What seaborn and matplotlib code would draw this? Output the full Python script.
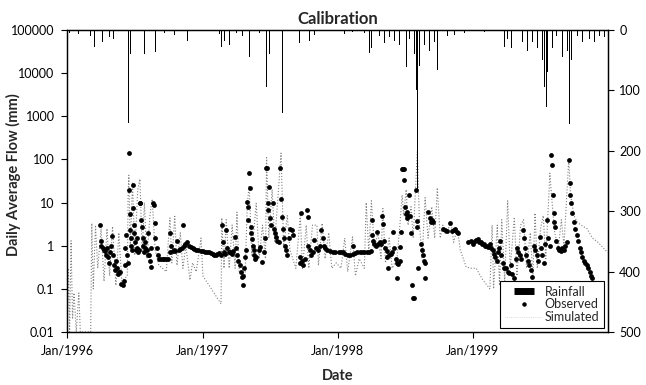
import pandas as pd
import matplotlib
matplotlib.use("Agg")
import matplotlib.pyplot as plt
import matplotlib.dates as mdates
from matplotlib.ticker import FuncFormatter, NullLocator
from matplotlib.lines import Line2D
import seaborn as sns

# observed daily average flow (mm)
obs_1996_dates = [
    "1996-03-30", "1996-04-01", "1996-04-03", "1996-04-06", "1996-04-09", "1996-04-12", "1996-04-15", "1996-04-18", "1996-04-20", "1996-04-23",
    "1996-04-26", "1996-04-29", "1996-05-02", "1996-05-04", "1996-05-06", "1996-05-09", "1996-05-12", "1996-05-15", "1996-05-18", "1996-05-21",
    "1996-05-24", "1996-05-27", "1996-05-30", "1996-06-02", "1996-06-05", "1996-06-07", "1996-06-09", "1996-06-11", "1996-06-13", "1996-06-16",
    "1996-06-17", "1996-06-18", "1996-06-19", "1996-06-21", "1996-06-23", "1996-06-25", "1996-06-27", "1996-06-28", "1996-06-29", "1996-07-01",
    "1996-07-03", "1996-07-05", "1996-07-07", "1996-07-09", "1996-07-11", "1996-07-13", "1996-07-15", "1996-07-17", "1996-07-19", "1996-07-21",
    "1996-07-23", "1996-07-25", "1996-07-27", "1996-07-29", "1996-07-31", "1996-08-03", "1996-08-06", "1996-08-08", "1996-08-10", "1996-08-12",
    "1996-08-14", "1996-08-16", "1996-08-20", "1996-08-22", "1996-08-25", "1996-08-27", "1996-08-30", "1996-09-02", "1996-09-05", "1996-09-10",
    "1996-09-15", "1996-09-20", "1996-09-25", "1996-10-01", "1996-10-04", "1996-10-06", "1996-10-08", "1996-10-12", "1996-10-16", "1996-10-20",
    "1996-10-25", "1996-10-29", "1996-11-02", "1996-11-06", "1996-11-09", "1996-11-12", "1996-11-16", "1996-11-20", "1996-11-25", "1996-11-30",
    "1996-12-05", "1996-12-10", "1996-12-15", "1996-12-20", "1996-12-27",
]
obs_1996_flow = [
    3.0, 1.3, 1.0, 0.9, 0.8, 0.75, 0.6, 0.9, 0.55, 0.4,
    0.7, 1.0, 1.7, 0.6, 0.35, 0.27, 0.45, 0.3, 0.22, 0.25,
    0.25, 0.13, 0.12, 0.15, 0.35, 0.9, 1.8, 0.6, 0.4, 140,
    19.5, 5.4, 2.3, 1.5, 1.0, 0.8, 25, 7.5, 3.0, 2.0,
    1.2, 0.8, 0.9, 1.5, 0.7, 0.8, 9.8, 9.8, 4.0, 2.7,
    1.5, 1.0, 0.7, 1.2, 0.9, 0.8, 2.0, 0.6, 0.6, 0.45,
    0.32, 0.9, 9.8, 8.8, 3.3, 1.5, 0.9, 0.6, 0.5, 0.5,
    0.5, 0.5, 0.5, 0.5, 0.7, 2.0, 1.0, 0.75, 0.8, 0.75,
    1.3, 0.8, 0.85, 0.9, 3.0, 1.0, 1.1, 1.2, 1.0, 0.95,
    0.9, 0.85, 0.8, 0.8, 0.75,
]

obs_1997_dates = [
    "1997-01-03", "1997-01-08", "1997-01-13", "1997-01-18", "1997-01-23", "1997-01-28", "1997-02-02", "1997-02-06", "1997-02-10", "1997-02-15",
    "1997-02-19", "1997-02-22", "1997-02-24", "1997-02-27", "1997-03-03", "1997-03-06", "1997-03-09", "1997-03-13", "1997-03-17", "1997-03-21",
    "1997-03-25", "1997-03-29", "1997-04-01", "1997-04-04", "1997-04-08", "1997-04-11", "1997-04-14", "1997-04-17", "1997-04-19", "1997-04-21",
    "1997-04-24", "1997-04-27", "1997-04-29", "1997-05-01", "1997-05-03", "1997-05-05", "1997-05-07", "1997-05-09", "1997-05-11", "1997-05-13",
    "1997-05-15", "1997-05-17", "1997-05-19", "1997-05-21", "1997-05-23", "1997-05-26", "1997-06-02", "1997-06-06", "1997-06-11", "1997-06-15",
    "1997-06-19", "1997-06-22", "1997-06-24", "1997-06-26", "1997-06-28", "1997-06-30", "1997-07-03", "1997-07-06", "1997-07-09", "1997-07-12",
    "1997-07-15", "1997-07-18", "1997-07-22", "1997-07-26", "1997-07-30", "1997-08-01", "1997-08-03", "1997-08-05", "1997-08-08", "1997-08-12",
    "1997-08-15", "1997-08-18", "1997-08-22", "1997-08-26", "1997-08-30", "1997-09-03", "1997-09-20", "1997-09-22", "1997-09-24", "1997-09-26",
    "1997-09-28", "1997-10-05", "1997-10-10", "1997-10-12", "1997-10-14", "1997-10-17", "1997-10-22", "1997-10-26", "1997-10-30", "1997-11-03",
    "1997-11-08", "1997-11-14", "1997-11-18", "1997-11-21", "1997-11-24", "1997-11-28", "1997-12-03", "1997-12-10", "1997-12-18", "1997-12-26",
]
obs_1997_flow = [
    0.75, 0.72, 0.7, 0.72, 0.68, 0.65, 0.6, 0.62, 0.65, 0.68,
    0.6, 3.0, 1.2, 0.7, 0.65, 2.3, 0.9, 0.7, 0.7, 0.65,
    0.75, 1.6, 0.9, 0.6, 0.45, 0.35, 0.25, 0.19, 0.12, 0.2,
    0.3, 0.55, 0.8, 10.3, 8.0, 4.0, 48, 22, 2.7, 2.0,
    1.4, 1.0, 0.8, 0.6, 0.5, 0.55, 0.8, 0.95, 0.42, 0.7,
    1.5, 63, 63, 10, 6.7, 23, 4.5, 3.0, 10, 2.5,
    2.0, 1.6, 1.3, 1.2, 63, 12, 4.6, 2.5, 1.5, 1.0,
    0.8, 0.6, 1.5, 2.5, 2.3, 1.8, 0.55, 0.4, 5.7, 0.45,
    0.35, 0.5, 6.7, 4.6, 1.0, 0.8, 0.6, 0.7, 1.35, 0.9,
    0.8, 1.0, 2.3, 1.5, 1.0, 0.9, 0.8, 0.75, 0.72, 0.7,
]

obs_1998_dates = [
    "1998-01-04", "1998-01-10", "1998-01-16", "1998-01-22", "1998-01-28", "1998-02-03", "1998-02-10", "1998-02-12", "1998-02-16", "1998-02-22",
    "1998-03-01", "1998-03-07", "1998-03-14", "1998-03-20", "1998-03-26", "1998-04-02", "1998-04-04", "1998-04-05", "1998-04-07", "1998-04-10",
    "1998-04-14", "1998-04-18", "1998-04-21", "1998-04-25", "1998-04-29", "1998-05-01", "1998-05-03", "1998-05-06", "1998-05-10", "1998-05-13",
    "1998-05-15", "1998-05-17", "1998-05-20", "1998-05-24", "1998-05-28", "1998-05-30", "1998-06-03", "1998-06-07", "1998-06-09", "1998-06-11",
    "1998-06-13", "1998-06-17", "1998-06-19", "1998-06-22", "1998-06-24", "1998-06-26", "1998-06-28", "1998-06-30", "1998-07-02", "1998-07-04",
    "1998-07-06", "1998-07-08", "1998-07-10", "1998-07-13", "1998-07-15", "1998-07-19", "1998-07-21", "1998-07-24", "1998-07-26", "1998-08-01",
    "1998-08-02", "1998-08-03", "1998-08-05", "1998-08-15", "1998-08-18", "1998-08-20", "1998-08-22", "1998-08-24", "1998-08-26", "1998-09-03",
    "1998-09-06", "1998-09-09", "1998-09-13", "1998-09-16", "1998-10-13", "1998-10-18", "1998-10-24", "1998-11-01", "1998-11-05", "1998-11-10",
    "1998-11-15", "1998-11-19", "1998-11-23", "1998-12-20", "1998-12-26",
]
obs_1998_flow = [
    0.7, 0.7, 0.7, 0.65, 0.62, 0.62, 0.65, 1.0, 0.68, 0.7,
    0.7, 0.7, 0.7, 0.7, 0.7, 0.75, 4.0, 1.8, 1.3, 1.1,
    1.0, 2.1, 1.1, 1.2, 1.1, 4.8, 3.2, 1.3, 0.9, 0.75,
    0.55, 0.3, 0.6, 0.65, 0.7, 2.1, 0.9, 0.5, 0.4, 0.18,
    0.38, 0.45, 0.95, 2.1, 60, 60, 60, 33, 8.0, 5.5,
    6.0, 4.5, 4.8, 15, 5.0, 2.0, 0.12, 0.06, 0.06, 19.5,
    3.7, 2.7, 0.3, 1.1, 0.8, 0.6, 0.45, 0.4, 0.18, 6.0,
    4.5, 3.5, 4.0, 3.6, 2.5, 2.3, 2.2, 3.3, 2.2, 2.3,
    2.4, 2.1, 2.0, 1.2, 1.3,
]

obs_1999_dates = [
    "1999-01-02", "1999-01-06", "1999-01-10", "1999-01-14", "1999-01-18", "1999-01-22", "1999-01-26", "1999-01-30", "1999-02-04", "1999-02-08",
    "1999-02-12", "1999-02-16", "1999-02-20", "1999-02-24", "1999-02-28", "1999-03-03", "1999-03-06", "1999-03-10", "1999-03-13", "1999-03-16",
    "1999-03-19", "1999-03-23", "1999-03-27", "1999-04-01", "1999-04-05", "1999-04-09", "1999-04-14", "1999-04-18", "1999-04-21", "1999-04-25",
    "1999-04-28", "1999-05-01", "1999-05-04", "1999-05-08", "1999-05-12", "1999-05-17", "1999-05-19", "1999-05-22", "1999-05-25", "1999-05-29",
    "1999-06-02", "1999-06-06", "1999-06-10", "1999-06-14", "1999-06-18", "1999-06-22", "1999-06-26", "1999-06-30", "1999-07-04", "1999-07-08",
    "1999-07-12", "1999-07-16", "1999-07-20", "1999-07-24", "1999-07-28", "1999-08-01", "1999-08-03", "1999-08-05", "1999-08-07", "1999-08-09",
    "1999-08-11", "1999-08-14", "1999-08-18", "1999-08-22", "1999-08-26", "1999-08-30", "1999-09-03", "1999-09-07", "1999-09-11", "1999-09-17",
    "1999-09-19", "1999-09-21", "1999-09-23", "1999-09-26", "1999-09-30", "1999-10-04", "1999-10-08", "1999-10-12", "1999-10-16", "1999-10-20",
    "1999-10-24", "1999-10-28", "1999-11-01", "1999-11-05", "1999-11-09", "1999-11-13", "1999-11-17", "1999-11-20",
]
obs_1999_flow = [
    1.1, 1.3, 1.35, 1.4, 1.25, 1.2, 1.1, 1.1, 1.0, 1.0,
    0.95, 1.1, 0.9, 0.8, 0.65, 0.55, 0.45, 0.7, 0.9, 1.3,
    0.6, 0.4, 0.3, 0.3, 0.25, 0.23, 0.35, 0.22, 0.18, 0.12,
    0.5, 0.9, 0.7, 0.6, 0.5, 2.3, 1.5, 0.9, 0.6, 0.45,
    0.35, 0.27, 0.19, 1.0, 0.8, 0.6, 0.45, 1.6, 0.9, 0.6,
    0.4, 1.1, 4.0, 1.5, 1.0, 130, 74, 15, 5.7, 3.5,
    2.7, 1.3, 0.9, 0.8, 0.75, 0.9, 0.8, 1.0, 1.2, 96,
    28, 15, 10, 5.7, 3.5, 2.5, 1.8, 1.3, 0.9, 0.7,
    0.55, 0.45, 0.4, 0.35, 0.3, 0.25, 0.2, 0.18,
]

# simulated flow (mm)
sim_dates = [
    "1996-01-01", "1996-01-05", "1996-01-08", "1996-01-12", "1996-01-16", "1996-01-20", "1996-01-26", "1996-02-02", "1996-02-06", "1996-03-05",
    "1996-03-08", "1996-03-12", "1996-03-18", "1996-03-24", "1996-04-02", "1996-04-10", "1996-04-18", "1996-04-25", "1996-05-03", "1996-05-12",
    "1996-05-20", "1996-05-28", "1996-06-12", "1996-06-14", "1996-06-16", "1996-06-20", "1996-06-26", "1996-07-02", "1996-07-10", "1996-07-16",
    "1996-07-22", "1996-07-28", "1996-08-04", "1996-08-12", "1996-08-18", "1996-08-26", "1996-09-05", "1996-09-15", "1996-09-25", "1996-10-05",
    "1996-10-10", "1996-10-18", "1996-10-24", "1996-11-02", "1996-11-09", "1996-11-17", "1996-11-28", "1996-12-05", "1996-12-15", "1996-12-28",
    "1997-01-02", "1997-02-20", "1997-02-22", "1997-02-28", "1997-03-06", "1997-03-14", "1997-03-22", "1997-03-30", "1997-04-04", "1997-04-10",
    "1997-04-26", "1997-05-02", "1997-05-07", "1997-05-14", "1997-05-26", "1997-06-03", "1997-06-12", "1997-06-20", "1997-06-23", "1997-06-29",
    "1997-07-08", "1997-07-15", "1997-08-01", "1997-08-08", "1997-08-18", "1997-08-25", "1997-09-10", "1997-09-22", "1997-09-28", "1997-10-08",
    "1997-10-15", "1997-10-25", "1997-11-06", "1997-11-10", "1997-11-20", "1997-11-28", "1997-12-08", "1997-12-16", "1997-12-28", "1998-01-10",
    "1998-01-20", "1998-01-28", "1998-02-10", "1998-02-18", "1998-02-28", "1998-03-14", "1998-03-19", "1998-03-26", "1998-04-02", "1998-04-10",
    "1998-04-20", "1998-04-28", "1998-05-03", "1998-05-10", "1998-05-20", "1998-05-28", "1998-06-10", "1998-06-18", "1998-06-24", "1998-06-28",
    "1998-07-05", "1998-07-10", "1998-07-18", "1998-07-24", "1998-08-04", "1998-08-10", "1998-08-17", "1998-08-25", "1998-09-02", "1998-09-12",
    "1998-09-20", "1998-09-27", "1998-10-05", "1998-10-12", "1998-10-20", "1998-11-03", "1998-11-10", "1998-11-20", "1998-11-28", "1998-12-14",
    "1998-12-28", "1999-01-10", "1999-01-28", "1999-02-16", "1999-02-22", "1999-02-26", "1999-03-08", "1999-03-14", "1999-03-20", "1999-03-28",
    "1999-04-05", "1999-04-12", "1999-04-23", "1999-04-30", "1999-05-10", "1999-05-18", "1999-05-26", "1999-06-05", "1999-06-12", "1999-06-18",
    "1999-06-24", "1999-07-03", "1999-07-10", "1999-07-17", "1999-07-28", "1999-08-03", "1999-08-10", "1999-08-20", "1999-08-28", "1999-09-04",
    "1999-09-17", "1999-09-22", "1999-10-01", "1999-10-10", "1999-10-20", "1999-11-05", "1999-11-20", "1999-12-05", "1999-12-31",
]
sim_flow = [
    0.01, 0.3, 0.01, 1.3, 0.02, 0.08, 0.01, 0.08, 0.01, 0.01,
    3.3, 0.1, 3.0, 0.3, 2.5, 0.15, 2.5, 0.2, 2.8, 0.12,
    2.0, 0.15, 0.2, 15, 43, 1.0, 30, 0.6, 20, 35,
    0.7, 10, 0.5, 5.0, 12, 0.8, 0.35, 0.3, 0.25, 4.4,
    0.4, 4.8, 0.35, 2.0, 0.3, 1.0, 0.16, 0.4, 0.25, 1.5,
    0.2, 0.045, 4.4, 0.3, 4.0, 0.3, 3.0, 0.3, 6.0, 0.25,
    0.2, 9.6, 25, 0.6, 9.6, 0.5, 3.0, 0.5, 110, 1.5,
    20, 1.2, 140, 1.0, 5.0, 0.8, 0.3, 5.0, 0.3, 3.0,
    0.3, 3.0, 3.0, 0.35, 3.3, 0.5, 2.0, 0.3, 0.4, 0.3,
    1.5, 0.25, 1.6, 0.2, 0.5, 0.3, 10, 0.7, 11, 0.9,
    2.0, 0.5, 7.3, 0.4, 1.5, 0.3, 0.5, 3.0, 15, 5.0,
    20, 3.0, 8.0, 1.5, 150, 3.0, 0.5, 13, 1.5, 8.0,
    1.5, 22, 1.5, 3.0, 1.8, 3.5, 1.2, 2.5, 0.8, 0.32,
    0.3, 0.3, 0.16, 0.1, 3.0, 0.1, 3.0, 0.12, 4.0, 0.15,
    11, 0.3, 4.6, 0.2, 3.0, 4.0, 0.3, 2.0, 0.2, 5.7,
    0.3, 2.5, 5.0, 0.5, 48, 10, 2.0, 0.9, 4.0, 1.0,
    100, 15, 5.0, 3.5, 3.0, 2.5, 1.5, 1.2, 0.7,
]

# daily rainfall (mm), right axis
rain_dates = [
    "1996-01-08", "1996-01-20", "1996-02-01", "1996-03-05", "1996-03-15", "1996-03-25", "1996-04-05", "1996-04-15", "1996-04-25", "1996-05-05",
    "1996-06-11", "1996-06-16", "1996-06-20", "1996-06-27", "1996-07-03", "1996-07-08", "1996-07-16", "1996-07-24", "1996-07-29", "1996-08-12",
    "1996-08-28", "1996-09-21", "1996-10-05", "1996-10-18", "1996-10-27", "1996-11-09", "1996-11-22", "1996-12-06", "1996-12-25", "1997-02-16",
    "1997-02-21", "1997-03-01", "1997-03-14", "1997-04-02", "1997-04-18", "1997-04-26", "1997-05-01", "1997-05-07", "1997-05-12", "1997-06-03",
    "1997-06-22", "1997-06-24", "1997-06-30", "1997-07-10", "1997-07-21", "1997-08-04", "1997-08-20", "1997-09-05", "1997-09-19", "1997-10-02",
    "1997-10-16", "1997-10-30", "1997-11-17", "1997-12-03", "1997-12-14", "1997-12-22", "1998-01-10", "1998-01-20", "1998-02-10", "1998-03-14",
    "1998-03-27", "1998-04-02", "1998-04-23", "1998-05-07", "1998-05-20", "1998-06-03", "1998-06-16", "1998-06-24", "1998-07-05", "1998-07-13",
    "1998-07-27", "1998-08-01", "1998-08-04", "1998-08-09", "1998-08-17", "1998-08-23", "1998-09-05", "1998-09-19", "1998-09-27", "1998-10-10",
    "1998-10-24", "1998-11-12", "1998-12-09", "1999-01-20", "1999-02-02", "1999-03-27", "1999-04-05", "1999-04-15", "1999-05-03", "1999-05-15",
    "1999-05-28", "1999-06-11", "1999-06-24", "1999-07-08", "1999-07-13", "1999-07-19", "1999-07-21", "1999-08-04", "1999-08-15", "1999-08-31",
    "1999-09-13", "1999-09-19", "1999-09-24", "1999-10-10", "1999-10-24", "1999-11-12", "1999-11-25", "1999-12-09", "1999-12-22",
]
rain_mm = [
    5, 4, 6, 10, 28, 25, 20, 8, 12, 15,
    35, 154, 40, 30, 45, 58, 25, 53, 40, 10,
    36, 5, 25, 8, 28, 12, 18, 8, 5, 6,
    28, 18, 25, 5, 10, 20, 63, 45, 30, 5,
    94, 152, 40, 55, 30, 138, 15, 12, 22, 10,
    18, 8, 12, 20, 8, 15, 10, 6, 4, 5,
    38, 30, 10, 22, 12, 18, 25, 91, 61, 15,
    40, 100, 265, 60, 45, 25, 35, 20, 66, 15,
    10, 8, 5, 3, 4, 28, 15, 30, 58, 20,
    35, 20, 30, 50, 94, 127, 70, 30, 10, 45,
    35, 155, 50, 10, 20, 15, 20, 10, 12,
]

year_ticks = ["1996-01-01", "1997-01-01", "1998-01-01", "1999-01-01"]

obs = pd.concat([
    pd.DataFrame({"date": pd.to_datetime(d), "flow": f})
    for d, f in [(obs_1996_dates, obs_1996_flow), (obs_1997_dates, obs_1997_flow),
                 (obs_1998_dates, obs_1998_flow), (obs_1999_dates, obs_1999_flow)]
], ignore_index=True)
sim = pd.DataFrame({"date": pd.to_datetime(sim_dates), "flow": sim_flow})
rain = pd.DataFrame({"date": pd.to_datetime(rain_dates), "mm": rain_mm})

sns.set_style("ticks")
plt.rcParams["font.family"] = ["Lato", "DejaVu Sans"]

fig = plt.figure(figsize=(6.46, 3.85), dpi=100)
ax = fig.add_axes([0.1037, 0.1377, 0.8375, 0.7844])

sns.lineplot(data=sim, x="date", y="flow", ax=ax, color="0.5", lw=0.8,
             linestyle=":", sort=False, estimator=None)
sns.scatterplot(data=obs, x="date", y="flow", ax=ax, color="k", s=12,
                linewidth=0, zorder=3)

ax.set_yscale("log")
ax.set_ylim(0.01, 100000)
ax.yaxis.set_major_formatter(FuncFormatter(lambda v, p: "%g" % v))
ax.yaxis.set_minor_locator(NullLocator())
ax.set_xlim(pd.Timestamp("1996-01-01"), pd.Timestamp("2000-01-01"))
ax.set_xticks(pd.to_datetime(year_ticks))
ax.xaxis.set_major_formatter(mdates.DateFormatter("%b/%Y"))
ax.set_xlabel("Date", fontsize=10.5, fontweight="bold", labelpad=9)
ax.set_ylabel("Daily Average Flow (mm)", fontsize=10.5, fontweight="bold")
ax.yaxis.set_label_coords(-0.085, 0.52)
ax.set_title("Calibration", fontsize=12, fontweight="bold", pad=4)
ax.tick_params(labelsize=9, length=4, width=0.8, pad=5, colors="k")

ax2 = ax.twinx()
ax2.bar(rain["date"], rain["mm"], width=2.0, color="k", linewidth=0)
ax2.set_ylim(500, 0)
ax2.set_yticks([0, 100, 200, 300, 400, 500])
ax2.tick_params(labelsize=9, length=4, width=0.8, pad=4, colors="k")

for a in (ax, ax2):
    for s in a.spines.values():
        s.set_color("k")
        s.set_linewidth(0.9)

handles = [
    Line2D([0], [0], color="k", marker="_", ls="", ms=15, mew=5),
    Line2D([0], [0], color="k", marker="o", ls="", ms=2.2),
    Line2D([0], [0], color="0.75", lw=0.5, ls=":"),
]
leg = ax.legend(handles, ["Rainfall", "Observed", "Simulated"], loc="lower right",
                bbox_to_anchor=(0.993, 0.013), fontsize=9, frameon=True, fancybox=False,
                framealpha=1, edgecolor="k", handlelength=3.0, handletextpad=0.17,
                labelspacing=0.05, borderpad=0.4, borderaxespad=0)
leg.get_frame().set_linewidth(0.8)
leg.set_zorder(5)

fig.savefig("out.png", dpi=100)
